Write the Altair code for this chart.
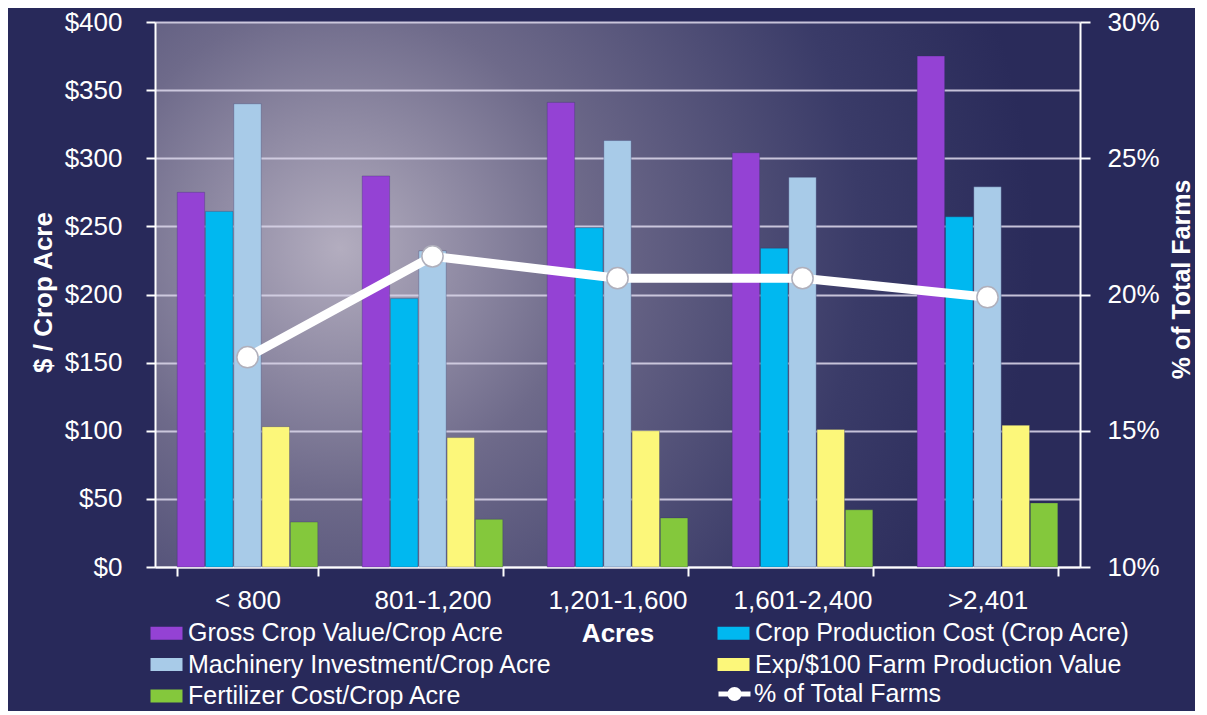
import altair as alt
import pandas as pd

categories = ["< 800", "801-1,200", "1,201-1,600", "1,601-2,400", ">2,401"]
series_names = [
    "Gross Crop Value/Crop Acre",
    "Crop Production Cost (Crop Acre)",
    "Machinery Investment/Crop Acre",
    "Exp/$100 Farm Production Value",
    "Fertilizer Cost/Crop Acre",
]
gross_value = [275, 287, 341, 304, 375]
production_cost = [261, 197, 249, 234, 257]
machinery = [340, 232, 313, 286, 279]
exp_per_100 = [103, 95, 100, 101, 104]
fertilizer = [33, 35, 36, 42, 47]
line_name = "% of Total Farms"
pct_total_farms = [17.7, 21.4, 20.6, 20.6, 19.9]
bar_colors = ["#9442d4", "#00b8f0", "#a8cbe8", "#fcf77a", "#84c83c"]
left_ticks = [0, 50, 100, 150, 200, 250, 300, 350, 400]
right_ticks = [10, 15, 20, 25, 30]

# legend lays out column by column: order entries so rows read as in the original
legend_order = [0, 2, 4, 1, 3]
legend_domain = [series_names[i] for i in legend_order]
legend_range = [bar_colors[i] for i in legend_order]

rows = []
for name, vals in zip(series_names, [gross_value, production_cost, machinery, exp_per_100, fertilizer]):
    for cat, v in zip(categories, vals):
        rows.append({"Acres": cat, "series": name, "value": v})
bars_df = pd.DataFrame(rows)
line_df = pd.DataFrame({"Acres": categories, "pct": pct_total_farms, "series": [line_name] * len(categories)})

FONT = "Liberation Sans"
W, H = 925, 545

x_enc = alt.X(
    "Acres:N",
    sort=categories,
    scale=alt.Scale(paddingInner=0.24, paddingOuter=0.12),
    axis=alt.Axis(
        title="Acres", labelAngle=0, tickBand="extent", labelFontSize=26, labelColor="white",
        labelFont=FONT, labelPadding=11, tickSize=9, tickColor="white", tickWidth=2,
        domainColor="white", domainWidth=2, titleFont=FONT, titleFontSize=26,
        titleFontWeight="bold", titleColor="white", titleX=W / 2, titleY=66,
        titleBaseline="middle", titleAlign="center", grid=False,
    ),
)

bars = alt.Chart(bars_df).mark_bar(stroke="#303060", strokeWidth=0.6, strokeOpacity=0.5).encode(
    x=x_enc,
    xOffset=alt.XOffset("series:N", sort=series_names, scale=alt.Scale(paddingInner=0.03)),
    y=alt.Y(
        "value:Q",
        scale=alt.Scale(domain=[0, 400], nice=False),
        axis=alt.Axis(
            title="$ / Crop Acre", values=left_ticks, labelExpr="'$' + datum.value",
            labelFontSize=26, labelColor="white", labelFont=FONT, labelPadding=24,
            tickSize=9, tickColor="white", tickWidth=2, domainColor="white", domainWidth=2,
            grid=True, gridColor="#d6d2e6", gridWidth=2, gridOpacity=0.9,
            titleFont=FONT, titleFontSize=26, titleFontWeight="bold", titleColor="white",
            titleAngle=270, titleX=-112, titleY=270, titleBaseline="middle", titleAlign="center",
            orient="left",
        ),
    ),
    color=alt.Color(
        "series:N",
        scale=alt.Scale(domain=legend_domain, range=legend_range),
        legend=alt.Legend(
            title=None, orient="none", legendX=-1, legendY=598.5, columns=2, columnPadding=164,
            rowPadding=5.5, labelFontSize=25, labelColor="white", labelFont=FONT, labelOffset=9,
            symbolType="M-1.6,-0.65H1.6V0.65H-1.6Z", symbolSize=400, symbolStrokeWidth=0,
            padding=0, labelLimit=600,
        ),
    ),
)

y_right = alt.Y(
    "pct:Q",
    scale=alt.Scale(domain=[10, 30], nice=False),
    axis=alt.Axis(
        title="% of Total Farms", orient="right", values=right_ticks, labelExpr="datum.value + '%'",
        labelFontSize=26, labelColor="white", labelFont=FONT, labelPadding=17,
        tickSize=10, tickColor="white", tickWidth=2, domainColor="white", domainWidth=2,
        grid=False, titleFont=FONT, titleFontSize=25, titleFontWeight="bold", titleColor="white",
        titleAngle=270, titleX=101, titleY=257, titleBaseline="middle", titleAlign="center",
    ),
)

line = alt.Chart(line_df).mark_line(color="white", strokeWidth=9).encode(
    x=alt.X("Acres:N", sort=categories),
    y=y_right,
)
points = alt.Chart(line_df).mark_point(filled=True, size=450, opacity=1, stroke="#b0b0bc", strokeWidth=1.5).encode(
    x=alt.X("Acres:N", sort=categories),
    y=alt.Y("pct:Q"),
    color=alt.Color(
        "series:N",
        scale=alt.Scale(domain=[line_name], range=["#ffffff"]),
        legend=alt.Legend(
            title=None, orient="none", legendX=567, legendY=659.5, labelFontSize=25,
            labelColor="white", labelFont=FONT, labelOffset=7, padding=0,
            symbolType="M-1.6,-0.25H1.6V0.25H-1.6Z M-0.7,0A0.7,0.7 0 1,1 0.7,0A0.7,0.7 0 1,1 -0.7,0Z",
            symbolSize=400, symbolStrokeWidth=0, labelLimit=600,
        ),
    ),
)

right = alt.layer(line, points)

grad = (
    "{gradient: 'radial', x1: 0.2, y1: 0.45, r1: 0, x2: 0.2, y2: 0.45, r2: 0.75, "
    "stops: [{offset: 0, color: '#b3adbf'}, {offset: 0.35, color: '#6e6a8a'}, "
    "{offset: 0.75, color: '#3a3b68'}, {offset: 1, color: '#2a2b5a'}]}"
)

chart = (
    alt.layer(bars, right)
    .resolve_scale(y="independent", color="independent")
    .properties(
        width=W, height=H,
        background="#28295a",
        autosize=alt.AutoSizeParams(type="none"),
        padding={"left": 147, "top": 14, "right": 115, "bottom": 144},
    )
    .configure_view(stroke=None, fill={"expr": grad})
)

chart.save("out.html", embed_options={"renderer": "svg", "actions": False})
